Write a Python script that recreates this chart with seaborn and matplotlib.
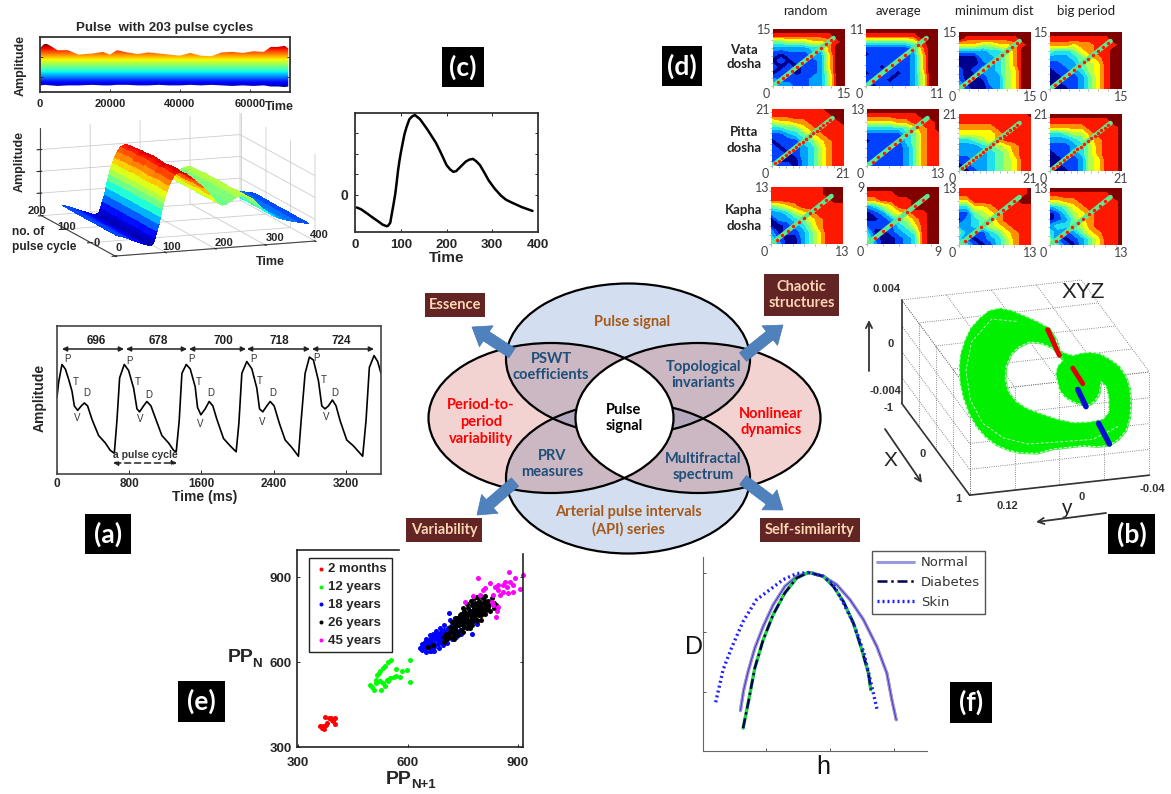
import numpy as np
import matplotlib
matplotlib.use('Agg')
import matplotlib.pyplot as plt
import seaborn as sns
from matplotlib.colors import ListedColormap, BoundaryNorm, Normalize
from matplotlib.patches import Ellipse, Rectangle, FancyArrow
from mpl_toolkits.mplot3d.art3d import Poly3DCollection

W, H = 1171, 794
BOLD = 'Liberation Sans'
CAL = 'Lato'

# (a) pulse waveform
a_time = [0, 18, 55, 92, 129, 166, 192, 229, 269, 303, 339, 387, 461, 535, 590, 635, 664, 694, 745, 793, 849, 886, 915,
          959, 996, 1041, 1089, 1162, 1236, 1292, 1321, 1354, 1384, 1432, 1476, 1531, 1557, 1594, 1642, 1686, 1727,
          1771, 1845, 1919, 1985, 2015, 2048, 2103, 2159, 2214, 2244, 2280, 2325, 2362, 2406, 2465, 2528, 2601, 2675,
          2705, 2749, 2797, 2841, 2897, 2934, 2970, 3007, 3052, 3092, 3137, 3210, 3284, 3387, 3424, 3461, 3513, 3553,
          3590]
a_amp = [52, 62, 74, 71, 64, 56, 46, 43, 46, 48, 46, 37, 26, 21, 16, 14, 36, 65, 74, 70, 58, 44, 42, 46, 49, 46, 38,
         26, 21, 16, 15, 36, 68, 74, 71, 59, 45, 40, 44, 49, 46, 37, 24, 19, 15, 34, 68, 76, 71, 58, 44, 42, 46, 49,
         46, 34, 23, 18, 12, 36, 68, 79, 77, 63, 46, 44, 46, 50, 46, 36, 23, 19, 12, 36, 72, 80, 76, 68]
a_periods = ['696', '678', '700', '718', '724']

# (c) single pulse, also the profile of the 3D surface
c_time = [4, 13, 27, 38, 50, 60, 69, 72, 77, 80, 84, 88, 91, 94, 97, 100, 104, 108, 113, 119, 125, 131, 142, 158, 177,
          188, 200, 208, 215, 221, 227, 242, 250, 258, 265, 273, 283, 292, 305, 319, 330, 342, 365, 388]
c_amp = [-.38, -.43, -.56, -.67, -.78, -.88, -.93, -.92, -.83, -.6, -.3, .02, .35, .7, .98, 1.22, 1.5, 1.77, 2.0, 2.22,
         2.3, 2.34, 2.22, 1.92, 1.52, 1.22, .87, .74, .67, .69, .77, .97, 1.03, 1.05, .98, .87, .64, .42, .18, -.03,
         -.15, -.23, -.37, -.48]

# top strip: pulse with 203 cycles
strip_time = [0, 1500, 3000, 5000, 8000, 11000, 15000, 18000, 20000, 22000, 25000, 28000, 31000, 34000, 37000, 40000,
              43000, 46000, 49000, 52000, 55000, 58000, 61000, 64000, 66000, 68000, 70000, 71000]
strip_upper = [.80, .89, .84, .76, .76, .68, .70, .73, .68, .76, .72, .69, .72, .70, .68, .66, .71, .66, .65, .72, .73,
               .71, .74, .73, .82, .82, .84, .79]
strip_lower = [.12, .13, .12, .11, .12, .12, .13, .12, .12, .13, .13, .12, .12, .13, .12, .12, .13, .12, .13, .12, .11,
               .12, .11, .12, .10, .10, .09, .10]

cycles = [0, 20, 40, 60, 80, 100, 120, 140, 160, 180, 200]
cycle_gain = [1.0, .99, 1.01, .98, .97, .99, 1.0, .97, .98, .96, .95]

# (b) attractor outline, y and z read at the middle of the x range
b_outer_y = [.0187, .029, .0394, .052, .0631, .073, .0810, .089, .0942, .0980, .0992, .0985, .0957, .0905, .0838,
             .0755, .0661, .0555, .0453, .030, .0157, .002, -.0110, -.024, -.0347, -.0430, -.0494, -.0530, -.0539,
             -.0530, -.0494, -.0430, -.0347, -.0260, -.0170, -.0095, -.0021, .0040, .0098, .0130]
b_outer_z = [.0044, .0050, .0055, .0061, .0064, .0063, .0058, .0051, .0042, .0032, .0022, .0010, -.0002, -.0015,
             -.0026, -.0035, -.0042, -.0047, -.0050, -.0052, -.0050, -.0050, -.0050, -.0052, -.0052, -.0048, -.0042,
             -.0032, -.0021, -.0010, 0, .0009, .0015, .0020, .0022, .0022, .0021, .0023, .0026, .0035]
b_inner_y = [.0157, .026, .0365, .046, .0528, .0572, .0581, .0550, .0483, .0390, .0275, .012, -.0021, -.016, -.0288,
             -.0341, -.0340, -.0317, -.0272, -.0258, -.0220, -.0170, -.0095, -.0021, .0045, .0098, .0133, .0115, .0069]
b_inner_z = [.0028, .0033, .0035, .0032, .0027, .0018, .0008, -.0002, -.0010, -.0016, -.0021, -.0027, -.0031, -.0032,
             -.0031, -.0026, -.0015, -.0006, -.0002, -.0011, -.0016, -.0019, -.0018, -.0015, -.0011, -.0005, .0008,
             .0014, .0018]
b_strand_y = [.0480, .0700, .0880, .0930, .0890, .0780, .0600, .0380, .0100, -.0200, -.0430]
b_strand_z = [.0052, .0056, .0040, .0018, -.0005, -.0024, -.0037, -.0044, -.0045, -.0046, -.0038]
b_red_y = [[.0202, .0098], [-.0021, -.0110]]
b_red_z = [[.0043, .0022], [.0011, -.0002]]
b_blue_y = [[-.0066, -.0139], [-.0251, -.0347]]
b_blue_z = [[-.0006, -.0020], [-.0034, -.0051]]
b_x_grid = [-1, -.5, 0, .5, 1]
b_y_grid = [.12, .08, .04, 0, -.04]
b_z_grid = [-.004, -.002, 0, .002, .004]

# (d) recurrence maps, rows from top to bottom, digit = contour level
vata_random = ['9999999999', '8888888899', '4455566789', '2222233799', '1011122699', '0101112699', '1010112699',
               '0110112599', '2111122599', '3221122599']
vata_average = ['9999999999', '8888888999', '4444445899', '1111112799', '0111112699', '1111012699', '1101112699',
                '0111012599', '1110112599', '1011112599']
vata_mindist = ['9999999999', '9888888899', '6665566789', '2222335799', '0002235799', '0001235799', '1012235699',
                '1001225699', '2000225699', '3100125699']
vata_big = ['9999999999', '8888888899', '7776778889', '4334678899', '2223467899', '1122456899', '0112356899',
            '0011246899', '0011246899', '1001246899']
pitta_random = ['8888888999', '8888888899', '5667788889', '3344678888', '1123467888', '0111346788', '1011235788',
                '1101235788', '1000235788', '2110235788']
pitta_average = ['9999999999', '8888888999', '6666778889', '3333346789', '1111134788', '0111134788', '1110124788',
                 '1101124788', '1111124788', '2111124788']
pitta_mindist = ['8888888889', '8888888888', '7777788888', '6666678888', '3345678888', '2223456788', '2222345788',
                 '1122345688', '0122345688', '0012345688']
pitta_big = ['9999999999', '8888888899', '7777788889', '3345578889', '2223467889', '1112357889', '0112357889',
             '0011256889', '0011256889', '1001256889']
kapha_random = ['8888888999', '8888888999', '8888888899', '4567888888', '2235678888', '0223467888', '0012357888',
                '2011246888', '3100246888', '4200246888']
kapha_average = ['9999999999', '8888999999', '7788889999', '2356889999', '0125678899', '0012457899', '1111346899',
                 '3001234899', '4100123899', '5200123899']
kapha_mindist = ['8888888889', '8888888889', '6688888899', '3366788888', '1145678888', '0234578888', '2234567888',
                 '4211346788', '3101235788', '5310135788']
kapha_big = ['9999999999', '8888888899', '6677888889', '2346788889', '0135678889', '0124678889', '2334578889',
             '3212467889', '4101246889', '6310246889']
map_rows = [[vata_random, vata_average, vata_mindist, vata_big],
            [pitta_random, pitta_average, pitta_mindist, pitta_big],
            [kapha_random, kapha_average, kapha_mindist, kapha_big]]
map_limits = [[15, 11, 15, 15], [21, 13, 21, 21], [13, 9, 13, 13]]
map_columns = ['random', 'average', 'minimum dist', 'big period']
map_doshas = ['Vata\ndosha', 'Pitta\ndosha', 'Kapha\ndosha']
map_colors = ['#00008f', '#0040ff', '#00a0ff', '#20e0f0', '#60ffa0', '#b0ff50', '#ffff00', '#ff9000', '#ff1800',
              '#800000']

# (e) Poincare plot
e_red_x = [361, 367, 370, 375, 378, 373, 385, 394, 400, 396, 402, 365, 390]
e_red_y = [373, 375, 364, 379, 385, 405, 402, 396, 402, 391, 382, 368, 404]
e_green_x = [496, 502, 507, 512, 522, 516, 523, 537, 546, 555, 542, 533, 528, 537, 546, 551, 562, 569, 578, 583, 567,
             598, 606, 607, 533, 514, 523]
e_green_y = [518, 512, 502, 535, 561, 556, 567, 587, 599, 606, 538, 526, 500, 514, 532, 543, 549, 552, 549, 567, 575,
             573, 608, 529, 579, 526, 532]
e_blue_x = [633, 640, 642, 648, 650, 655, 658, 660, 663, 667, 670, 672, 676, 680, 682, 686, 690, 692, 696, 700, 702,
            706, 710, 714, 718, 722, 726, 730, 715, 712, 735, 742, 748, 750, 758, 765, 772, 780, 790, 775, 665, 675,
            685, 695, 705, 685, 695, 675, 665, 655, 645, 640, 650, 660, 668, 678, 688, 700, 650, 660, 672, 684, 696,
            708, 720, 732, 745, 690, 680, 700, 710, 670, 660, 650]
e_blue_y = [650, 642, 662, 670, 650, 672, 660, 682, 640, 668, 690, 655, 680, 698, 665, 688, 705, 672, 694, 712, 680,
            700, 722, 690, 708, 730, 700, 718, 748, 772, 740, 712, 770, 732, 752, 725, 780, 745, 735, 700, 650, 665,
            675, 685, 690, 700, 710, 695, 675, 658, 655, 665, 680, 695, 700, 710, 722, 730, 635, 640, 640, 650, 660,
            668, 680, 690, 700, 680, 680, 695, 705, 680, 665, 660]
e_black_x = [655, 668, 700, 708, 715, 720, 725, 730, 735, 740, 745, 750, 755, 760, 765, 770, 775, 780, 785, 790, 795,
             800, 805, 810, 815, 820, 830, 835, 840, 845, 735, 745, 755, 765, 775, 785, 795, 805, 810, 770, 790, 800,
             725, 715, 705, 740, 750, 760, 770, 780, 790, 800, 810, 820, 730, 720, 760, 775, 785, 795, 805, 710, 720,
             730, 742, 752, 762, 772, 782, 790, 800, 725, 738, 750, 762, 775, 788, 800, 812, 825, 835, 700, 715, 728,
             745, 760, 770, 780, 790, 800, 815, 825, 810, 795, 785, 775, 765, 755, 745, 735, 725, 750, 760, 770]
e_black_y = [655, 660, 670, 680, 690, 710, 695, 720, 705, 730, 715, 745, 725, 755, 735, 765, 745, 775, 755, 785, 765,
             795, 775, 805, 785, 795, 825, 810, 800, 790, 755, 770, 780, 790, 800, 810, 815, 825, 835, 720, 750, 765,
             725, 705, 700, 745, 760, 770, 780, 790, 800, 810, 790, 815, 735, 720, 740, 760, 770, 780, 790, 700, 740,
             755, 768, 790, 805, 815, 825, 830, 835, 680, 695, 705, 720, 730, 745, 750, 770, 780, 790, 690, 725, 745,
             745, 760, 750, 760, 770, 780, 800, 805, 815, 795, 785, 775, 775, 765, 755, 730, 710, 730, 745, 735]
e_pink_x = [792, 877, 893, 906, 916, 865, 879, 861, 847, 824, 838, 811, 797, 779, 756, 847, 861, 875, 888, 834, 852,
            806, 829, 847, 844, 841, 832, 870, 888]
e_pink_y = [896, 920, 896, 857, 908, 884, 884, 873, 873, 879, 867, 861, 837, 834, 814, 855, 849, 843, 849, 837, 837,
            855, 814, 796, 782, 759, 802, 867, 873]

# (f) multifractal spectra
f_normal_h = [.0602, .0654, .0723, .0827, .0958, .1115, .1298, .1482, .1691, .1901, .2110, .2319, .2529, .2738, .2895,
              .2974, .3042]
f_normal_d = [.537, .607, .669, .747, .820, .893, .955, .989, 1.002, .989, .961, .910, .843, .753, .663, .573, .506]
f_diabetes_h = [.0644, .0723, .0827, .0958, .1115, .1298, .1482, .1665, .1901, .2058, .2215, .2372, .2503, .2607, .2644]
f_diabetes_d = [.478, .562, .680, .775, .860, .933, .983, 1.002, .989, .955, .904, .831, .742, .663, .607]
f_skin_h = [.0215, .0330, .0461, .0644, .0853, .1063, .1272, .1482, .1691, .1901, .2058, .2215, .2372, .2529, .2660,
            .2749]
f_skin_d = [.565, .674, .747, .837, .910, .944, .978, .998, 1.002, .989, .961, .899, .831, .736, .618, .534]


def px_axes(fig, x0, y0, x1, y1, **kwargs):
    return fig.add_axes([x0 / W, 1 - y1 / H, (x1 - x0) / W, (y1 - y0) / H], **kwargs)


def frame(ax, color='#333333', width=1.3):
    for spine in ax.spines.values():
        spine.set_visible(True)
        spine.set_color(color)
        spine.set_linewidth(width)


def tag(ov, x0, y0, x1, y1, text, face='black', color='white', size=19):
    ov.add_patch(Rectangle((x0, y0), x1 - x0, y1 - y0, facecolor=face, edgecolor='none', zorder=20))
    ov.text((x0 + x1) / 2, (y0 + y1) / 2, text, color=color, ha='center', va='center', fontsize=size,
            family=CAL, weight='bold', zorder=21)


def draw_strip(fig, ov):
    ax = px_axes(fig, 40, 37, 290, 92)
    ax.set_xlim(0, 71500)
    ax.set_ylim(0, 1)
    poly = ax.fill_between(strip_time, strip_lower, strip_upper, color='none')
    img = ax.imshow(np.linspace(0, 1, 200).reshape(-1, 1), extent=(0, 71000, .08, .88), origin='lower', aspect='auto',
                    cmap='jet')
    img.set_clip_path(poly.get_paths()[0], transform=ax.transData)
    ax.set_xlim(0, 71500)
    ax.set_ylim(0, 1)
    ax.set_xticks([0, 20000, 40000, 60000])
    ax.set_xticklabels(['0', '20000', '40000', '60000'], fontsize=8, family=BOLD, weight='bold')
    ax.set_yticks([.28, .64])
    ax.set_yticklabels([])
    ax.tick_params(direction='in', length=2, width=.6, pad=5, bottom=True, left=True, right=True, colors='#222222')
    frame(ax)
    ov.text(165, 28, 'Pulse  with 203 pulse cycles', ha='center', va='center', fontsize=9.5, family=BOLD, weight='bold')
    ov.text(21, 65, 'Amplitude', rotation=90, ha='center', va='center', fontsize=9, family=BOLD, weight='bold')
    ov.text(279, 107, 'Time', ha='center', va='center', fontsize=9, family=BOLD, weight='bold')


def draw_surface(fig, ov):
    ax = px_axes(fig, 3, 19, 343, 359, projection='3d')
    ax.patch.set_alpha(0)
    ax.set_proj_type('ortho')
    tt, cc = np.meshgrid(c_time, cycles)
    zz = np.outer(cycle_gain, c_amp)
    colors = plt.get_cmap('jet')(Normalize(-1.1, 2.6)(zz))
    ax.plot_surface(tt, cc, zz, facecolors=colors, rstride=1, cstride=1, shade=False, linewidth=0, antialiased=False)
    ax.set_xlim(0, 400)
    ax.set_ylim(0, 275)
    ax.set_zlim(-1.3, 2.7)
    ax.set_xticks([0, 100, 200, 300, 400])
    ax.set_yticks([0, 90, 180, 270])
    ax.set_zticks([-.3, .7, 1.7])
    ax.view_init(elev=11.7, azim=-110.3)
    ax.set_box_aspect((213, 216, 89), zoom=.903)
    for axis in (ax.xaxis, ax.yaxis, ax.zaxis):
        axis.set_pane_color((1, 1, 1, 0))
        axis.line.set_color('#444444')
        axis.set_ticklabels([])
        axis.set_label_text('')
        axis._axinfo['grid'].update(color='#cccccc', linewidth=.6)
    for x, y, s in [(119, 248, '0'), (172, 247, '100'), (224, 243, '200'), (275, 238, '300'), (319, 235, '400'),
                    (97, 243, '0'), (67, 227, '100'), (37, 211, '200')]:
        ov.text(x, y, s, ha='center', va='center', fontsize=8, family=BOLD, weight='bold')
    ov.text(20, 161, 'Amplitude', rotation=90, ha='center', va='center', fontsize=9, family=BOLD, weight='bold')
    ov.text(12, 232, 'no. of', ha='left', va='center', fontsize=8.6, family=BOLD, weight='bold')
    ov.text(12, 247, 'pulse cycle', ha='left', va='center', fontsize=8.6, family=BOLD, weight='bold')
    ov.text(270, 262, 'Time', ha='center', va='center', fontsize=9, family=BOLD, weight='bold')


def draw_single_pulse(fig, ov):
    ax = px_axes(fig, 355, 113, 538, 232)
    sns.lineplot(x=c_time, y=c_amp, color='black', linewidth=1.8, estimator=None, sort=False, ax=ax)
    ax.set_xlim(0, 400)
    ax.set_ylim(-1.1, 2.4)
    ax.set_xticks([0, 100, 200, 300, 400])
    ax.set_xticklabels(['0', '100', '200', '300', '400'], fontsize=9.5, family=BOLD, weight='bold')
    ax.set_yticks([0, .6, 1.2, 1.8])
    ax.set_yticklabels(['0', '', '', ''], fontsize=10, family=BOLD, weight='bold')
    ax.tick_params(direction='in', length=2, width=.7, pad=5, bottom=True, left=True, right=True, top=True)
    frame(ax)
    ov.text(447, 258, 'Time', ha='center', va='center', fontsize=11, family=BOLD, weight='bold')


def draw_maps(fig, ov):
    cmap = ListedColormap(map_colors)
    norm = BoundaryNorm(np.arange(-.5, 10), cmap.N)
    lefts = [[773, 866, 959, 1050], [772, 867, 959, 1050], [771, 867, 959, 1050]]
    tops = [[29, 29, 32, 32], [109, 109, 114, 114], [187, 187, 188, 188]]
    for r, row in enumerate(map_rows):
        for c, rows in enumerate(row):
            n = map_limits[r][c]
            x0, y0 = lefts[r][c], tops[r][c]
            ax = px_axes(fig, x0, y0, x0 + 72, y0 + 57)
            values = np.array([[int(d) for d in line] for line in rows])[::-1]
            grid = np.linspace(0, n, values.shape[0])
            ax.contourf(grid, grid, values, levels=np.arange(-.5, 10), cmap=cmap, norm=norm)
            end = .84 * n
            sns.lineplot(x=[0, end], y=[0, end], color='#60e890', linewidth=3.4, estimator=None, sort=False, ax=ax)
            dots = np.arange(1, int(end) + 1)
            sns.scatterplot(x=dots, y=dots, color=map_colors[8], s=6, linewidth=0, ax=ax, zorder=5)
            ax.set_xlim(0, n)
            ax.set_ylim(0, n)
            ax.set_xticks(np.arange(0, n + 1, 2))
            ax.set_yticks(np.arange(0, n + 1, 2))
            ax.set_xticklabels([])
            ax.set_yticklabels([])
            ax.tick_params(direction='out', length=1.2, width=.4, color='#777777', bottom=True, left=True)
            for spine in ax.spines.values():
                spine.set_visible(False)
            for x, y, s, ha in [(x0 - 2, y0 + 1, n, 'right'), (x0 - 7, y0 + 65, 0, 'center'),
                                (x0 + 71, y0 + 65, n, 'center')]:
                ov.text(x, y, str(s), ha=ha, va='center', fontsize=9, family=CAL, color='#444444')
    for x, s in zip([805, 899, 994, 1086], map_columns):
        ov.text(x, 11, s, ha='center', va='center', fontsize=9.5, family=CAL, color='#222222')
    for y, s in zip([57, 140, 218], map_doshas):
        ov.text(744, y, s, ha='center', va='center', fontsize=9.5, family=CAL, weight='bold', color='#222222',
                linespacing=1.3)


def draw_waveform(fig, ov):
    ax = px_axes(fig, 57, 326, 381, 474)
    sns.lineplot(x=a_time, y=a_amp, color='black', linewidth=1.2, estimator=None, sort=False, ax=ax)
    ax.set_xlim(0, 3590)
    ax.set_ylim(0, 100)
    ax.set_xticks([0, 800, 1600, 2400, 3200])
    ax.set_xticklabels(['0', '800', '1600', '2400', '3200'], fontsize=8.5, family=BOLD, weight='bold')
    ax.set_yticks([])
    ax.tick_params(direction='in', length=3, width=.7, pad=3, bottom=True)
    frame(ax, '#444444', 1.2)
    ov.text(205, 497, 'Time (ms)', ha='center', va='center', fontsize=10, family=BOLD, weight='bold')
    ov.text(40, 398, 'Amplitude', rotation=90, ha='center', va='center', fontsize=10, family=BOLD, weight='bold')
    spans = [(62, 124), (126, 187), (189, 246), (247, 310), (312, 374)]
    for (x0, x1), s, xt in zip(spans, a_periods, [96, 158, 223, 279, 341]):
        ov.annotate('', xy=(x1, 349), xytext=(x0, 349), arrowprops=dict(arrowstyle='<|-|>', lw=1.1, color='#222222',
                                                                       mutation_scale=7, shrinkA=0, shrinkB=0))
        ov.text(xt, 341, s, ha='center', va='center', fontsize=8.5, family=BOLD, weight='bold', color='#222222')
    labels = {'P': ([67, 129, 191, 253, 316], [359, 361, 359, 359, 358]),
              'T': ([76, 138, 199, 260, 324], [382, 382, 382, 381, 380]),
              'D': ([87, 149, 211, 273, 335], [393, 395, 393, 393, 393]),
              'V': ([77, 140, 200, 262, 326], [418, 419, 424, 422, 417])}
    for s, (xs, ys) in labels.items():
        for x, y in zip(xs, ys):
            ov.text(x, y, s, ha='center', va='center', fontsize=7, family=BOLD, color='#333333')
    ov.text(145, 455, 'a pulse cycle', ha='center', va='center', fontsize=7.5, family=BOLD, weight='bold',
            color='#333333')
    ov.annotate('', xy=(177, 463), xytext=(113, 463),
                arrowprops=dict(arrowstyle='<|-|>', lw=1.1, ls=(0, (4, 2.5)), color='#222222', mutation_scale=7,
                                shrinkA=0, shrinkB=0))


def draw_venn(ov):
    top = dict(xy=(628, 359), width=244, height=151)
    bottom = dict(xy=(628, 478), width=244, height=151)
    left = dict(xy=(551, 418), width=245, height=150)
    right = dict(xy=(698, 418), width=245, height=150)

    def part(shape, color, clip=None, z=2):
        patch = Ellipse(**shape, facecolor=color, edgecolor='none', zorder=z)
        ov.add_patch(patch)
        if clip is not None:
            patch.set_clip_path(Ellipse(**clip, transform=ov.transData))

    part(top, '#d3dff0')
    part(bottom, '#d3dff0')
    part(left, '#f2d3d1')
    part(right, '#f2d3d1')
    for side in (left, right):
        part(side, '#cbb8c3', top, 3)
        part(side, '#cbb8c3', bottom, 3)
    part(top, '#b3a8bd', bottom, 4)
    for shape in (top, bottom):
        ov.add_patch(Ellipse(**shape, facecolor='none', edgecolor='black', linewidth=1.6, zorder=5))
    part(left, 'white', right, 6)
    for shape in (left, right):
        ov.add_patch(Ellipse(**shape, facecolor='none', edgecolor='black', linewidth=1.6, zorder=7))
    arrows = [(512, 353, -40, -26), (743, 357, 40, -32), (515, 482, -38, 33), (743, 480, 40, 30)]
    for x, y, dx, dy in arrows:
        ov.add_patch(FancyArrow(x, y, dx, dy, width=11, head_width=25, head_length=17, length_includes_head=True,
                                facecolor='#4f81bd', edgecolor='#4677b0', linewidth=.5, zorder=8))
    brown = '#a5591a'
    navy = '#1f4e79'
    texts = [(632, 322, 'Pulse signal', brown), (628, 521, 'Arterial pulse intervals\n(API) series', brown),
             (551, 367, 'PSWT\ncoefficients', navy), (703, 375, 'Topological\ninvariants', navy),
             (552, 464, 'PRV\nmeasures', navy), (703, 467, 'Multifractal\nspectrum', navy),
             (481, 422, 'Period-to-\nperiod\nvariability', 'red'), (771, 422, 'Nonlinear\ndynamics', 'red'),
             (624, 418, 'Pulse\nsignal', 'black')]
    for x, y, s, color in texts:
        ov.text(x, y, s, color=color, ha='center', va='center', fontsize=10.5, family=CAL, weight='bold',
                linespacing=1.25, zorder=9)
    cream = '#fcd5b5'
    tag(ov, 425, 293, 485, 317, 'Essence', '#632523', cream, 10.5)
    tag(ov, 764, 274, 839, 316, 'Chaotic\nstructures', '#632523', cream, 10.5)
    tag(ov, 406, 518, 482, 542, 'Variability', '#632523', cream, 10.5)
    tag(ov, 760, 518, 860, 542, 'Self-similarity', '#632523', cream, 10.5)


def draw_attractor(fig, ov):
    ax = px_axes(fig, 856, 227, 1186, 557, projection='3d')
    ax.patch.set_alpha(0)
    ax.set_proj_type('ortho')
    ax.computed_zorder = False
    ax.set_xlim(-1, 1)
    ax.set_ylim(.12, -.04)
    ax.set_zlim(-.004, .004)
    ax.view_init(elev=22.8, azim=-16)
    ax.set_box_aspect((247, 187, 112), zoom=.969)
    ax.set_axis_off()
    grid = dict(color='#666666', linewidth=.6, linestyle=':', zorder=1)
    xa, xb = b_x_grid[0], b_x_grid[-1]
    ya, yb = b_y_grid[0], b_y_grid[-1]
    za, zb = b_z_grid[0], b_z_grid[-1]
    for v in b_x_grid:
        ax.plot([v, v], [ya, yb], [zb, zb], **grid)
        ax.plot([v, v], [ya, ya], [za, zb], **grid)
    for v in b_y_grid:
        ax.plot([xa, xb], [v, v], [zb, zb], **grid)
        ax.plot([xb, xb], [v, v], [za, zb], **grid)
    for v in b_z_grid:
        ax.plot([xa, xb], [ya, ya], [v, v], **grid)
        ax.plot([xb, xb], [ya, yb], [v, v], **grid)
    solid = dict(color='#333333', linewidth=1.2, zorder=2)
    ax.plot([xa, xa], [ya, ya], [za, zb], **solid)
    ax.plot([xa, xb], [ya, ya], [za, za], **solid)
    ax.plot([xb, xb], [ya, yb], [za, za], **solid)
    ys = b_outer_y + b_inner_y[::-1] + [b_inner_y[-1], b_outer_y[-1]]
    zs = b_outer_z + b_inner_z[::-1] + [b_inner_z[-1], b_outer_z[-1]]
    ax.add_collection3d(Poly3DCollection([list(zip([0] * len(ys), ys, zs))], facecolor='#00f000', edgecolor='#30f030',
                                         linewidth=1, zorder=3))
    ax.plot([0] * len(b_outer_y), b_outer_y, b_outer_z, color='white', lw=.7, ls=(0, (3, 2)), zorder=4)
    ax.plot([0] * len(b_inner_y), b_inner_y, b_inner_z, color='white', lw=.7, ls=(0, (3, 2)), zorder=4)
    ax.plot([0] * len(b_strand_y), b_strand_y, b_strand_z, color='#c8ffc8', lw=.7, ls=(0, (3, 2)), zorder=4)
    for seg_y, seg_z in zip(b_red_y, b_red_z):
        ax.plot([0, 0], seg_y, seg_z, color='#e00000', lw=3.5, zorder=5)
    for seg_y, seg_z in zip(b_blue_y, b_blue_z):
        ax.plot([0, 0], seg_y, seg_z, color='#0010d0', lw=4, zorder=5)
    for x, y, s in [(887, 289, '0.004'), (891, 344, '0'), (886, 391, '-0.004'), (889, 408, '-1'), (923, 454, '0'),
                    (958, 499, '1'), (1007, 506, '0.12'), (1082, 497, '0'), (1152, 489, '-0.04')]:
        ov.text(x, y, s, ha='center', va='center', fontsize=8, family=BOLD, weight='bold', color='#333333')
    ov.text(1083, 293, 'XYZ', ha='center', va='center', fontsize=16, color='#222222')
    ov.text(890, 460, 'X', ha='center', va='center', fontsize=15, color='#222222')
    ov.text(1066, 508, 'y', ha='center', va='center', fontsize=15, color='#222222')
    for p0, p1 in [((869, 371), (869, 320)), ((885, 429), (922, 483)), ((1106, 513), (1036, 522))]:
        ov.annotate('', xy=p1, xytext=p0, arrowprops=dict(arrowstyle='->', lw=1.3, color='#333333', mutation_scale=11,
                                                          shrinkA=0, shrinkB=0))


def draw_poincare(fig, ov):
    ax = px_axes(fig, 297, 550, 523, 747)
    groups = [('2 months', e_red_x, e_red_y, '#ff0000'), ('12 years', e_green_x, e_green_y, '#00ff00'),
              ('18 years', e_blue_x, e_blue_y, '#0000ff'), ('26 years', e_black_x, e_black_y, '#000000'),
              ('45 years', e_pink_x, e_pink_y, '#ff00ff')]
    for name, xs, ys, color in groups:
        sns.scatterplot(x=xs, y=ys, color=color, s=13, linewidth=0, label=name, ax=ax, clip_on=False)
    ax.set_xlim(297, 915)
    ax.set_ylim(300, 996)
    ax.set_xticks([300, 600, 900])
    ax.set_yticks([300, 600, 900])
    ax.set_xticklabels(['300', '600', '900'], fontsize=9.5, family=BOLD, weight='bold')
    ax.set_yticklabels(['300', '600', '900'], fontsize=9.5, family=BOLD, weight='bold')
    ax.tick_params(direction='in', length=2, width=.7, pad=4, bottom=True, left=True, right=True)
    ax.tick_params(axis='x', pad=7)
    frame(ax, '#222222', 1.2)
    ax.spines['top'].set_bounds(297, 576)
    ax.spines['right'].set_bounds(300, 982)
    ax.legend(loc='upper left', bbox_to_anchor=(.055, .96), fancybox=False, framealpha=1, edgecolor='#222222',
              prop={'family': BOLD, 'weight': 'bold', 'size': 9.5}, handletextpad=.1, handlelength=.9,
              labelspacing=.42, borderpad=.4, markerscale=.8, borderaxespad=0)
    ov.text(241, 658, 'PP', ha='center', va='center', fontsize=14, family=BOLD, weight='bold')
    ov.text(257, 664, 'N', ha='center', va='center', fontsize=9.5, family=BOLD, weight='bold')
    ov.text(399, 779, 'PP', ha='center', va='center', fontsize=14, family=BOLD, weight='bold')
    ov.text(423, 785, 'N+1', ha='center', va='center', fontsize=9.5, family=BOLD, weight='bold')


def draw_spectrum(fig, ov):
    ax = px_axes(fig, 703, 557, 927, 751)
    sns.lineplot(x=f_normal_h, y=f_normal_d, color='#f06060', linewidth=2.2, estimator=None, sort=False, ax=ax)
    sns.lineplot(x=f_normal_h, y=f_normal_d, color='#9a9ae0', linewidth=2.2, estimator=None, sort=False, ax=ax,
                 label='Normal')
    sns.lineplot(x=f_normal_h, y=f_normal_d, color='#3838c8', linewidth=.7, estimator=None, sort=False, ax=ax)
    sns.lineplot(x=f_diabetes_h, y=f_diabetes_d, color='#20d040', linewidth=2.4, estimator=None, sort=False, ax=ax)
    sns.lineplot(x=f_diabetes_h, y=f_diabetes_d, color='#000050', linewidth=1.8, linestyle=(0, (4, 1.5, 1, 1.5)),
                 estimator=None, sort=False, ax=ax, label='Diabetes')
    sns.lineplot(x=f_skin_h, y=f_skin_d, color='#2020ff', linewidth=2.4, linestyle=(0, (.6, .9)), estimator=None,
                 sort=False, ax=ax, label='Skin')
    ax.set_xlim(.0016, .3524)
    ax.set_ylim(.401, 1.054)
    ax.set_xticks([.1, .2, .3])
    ax.set_yticks([.6, .8, 1.0])
    ax.set_xticklabels([])
    ax.set_yticklabels([])
    ax.tick_params(direction='in', length=2, width=.7, bottom=True, left=True, color='#555555')
    sns.despine(ax=ax)
    for side in ('left', 'bottom'):
        ax.spines[side].set_color('#666666')
    leg = ax.legend(loc='upper left', bbox_to_anchor=(.755, 1.03), fancybox=False, framealpha=1, edgecolor='#555555',
                    prop={'family': 'DejaVu Sans', 'size': 9.5}, labelspacing=.5, borderpad=.4, handlelength=2.8,
                    handletextpad=.5, borderaxespad=0)
    for text in leg.get_texts():
        text.set_color('#333333')
    ax.set_zorder(9)
    ov.text(694, 647, 'D', ha='center', va='center', fontsize=18, color='#111111')
    ov.text(823, 767, 'h', ha='center', va='center', fontsize=18, color='#111111')


def main():
    sns.set_style('white')
    plt.rcParams['font.family'] = ['Liberation Sans', 'DejaVu Sans']
    fig = plt.figure(figsize=(W / 100, H / 100), dpi=100)
    ov = fig.add_axes([0, 0, 1, 1], zorder=10)
    ov.set_xlim(0, W)
    ov.set_ylim(H, 0)
    ov.axis('off')
    ov.patch.set_alpha(0)

    draw_strip(fig, ov)
    draw_surface(fig, ov)
    draw_single_pulse(fig, ov)
    draw_maps(fig, ov)
    draw_waveform(fig, ov)
    draw_venn(ov)
    draw_attractor(fig, ov)
    draw_poincare(fig, ov)
    draw_spectrum(fig, ov)

    tag(ov, 85, 514, 131, 554, '(a)')
    tag(ov, 1108, 514, 1155, 554, '(b)')
    tag(ov, 442, 47, 484, 87, '(c)')
    tag(ov, 662, 46, 702, 86, '(d)')
    tag(ov, 178, 681, 225, 722, '(e)')
    tag(ov, 950, 682, 992, 723, '(f)')

    fig.savefig('out.png', dpi=100)


if __name__ == '__main__':
    main()
